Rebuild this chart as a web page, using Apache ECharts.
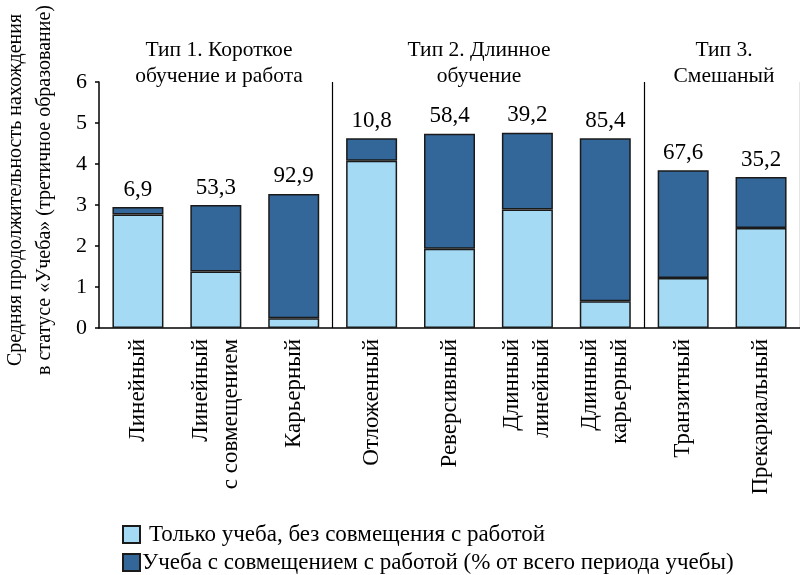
<!DOCTYPE html>
<html>
<head>
<meta charset="utf-8">
<script src="https://cdn.jsdelivr.net/npm/echarts@6/dist/echarts.min.js"></script>
<style>
  html, body { margin: 0; padding: 0; background: #fff; }
  #chart { width: 800px; height: 575px; }
</style>
</head>
<body>
<div id="chart"></div>
<script>
// категории траекторий
const categories = [
  'Линейный',
  'Линейный\nс совмещением',
  'Карьерный',
  'Отложенный',
  'Реверсивный',
  'Длинный\nлинейный',
  'Длинный\nкарьерный',
  'Транзитный',
  'Прекариальный'
];
// только учеба, лет
const studyOnly = [2.77, 1.38, 0.24, 4.08, 1.93, 2.89, 0.65, 1.22, 2.44];
// учеба с работой, лет
const studyWork = [0.18, 1.62, 3.03, 0.55, 2.81, 1.87, 3.98, 2.63, 1.24];
// % от всего периода учебы
const workShare = ['6,9', '53,3', '92,9', '10,8', '58,4', '39,2', '85,4', '67,6', '35,2'];
const yTicks = [0, 1, 2, 3, 4, 5, 6];
const groupTitles = [
  { text: 'Тип 1. Короткое\nобучение и работа', x: 219 },
  { text: 'Тип 2. Длинное\nобучение', x: 479 },
  { text: 'Тип 3.\nСмешаный', x: 724 }
];
const legendNames = [
  'Только учеба, без совмещения с работой',
  'Учеба с совмещением с работой (% от всего периода учебы)'
];

const font = 'Liberation Serif';
const chart = echarts.init(document.getElementById('chart'));

// одна строка легенды на серию
function legendRow(name, top, textPad) {
  return {
    left: 122,
    top: top,
    padding: 0,
    itemWidth: 17,
    itemHeight: 17,
    icon: 'rect',
    textStyle: { fontFamily: font, fontSize: 23, color: '#000', padding: [0, 0, 0, textPad] },
    data: [name]
  };
}

const option = {
  animation: false,
  textStyle: { fontFamily: font, color: '#000' },
  grid: { left: 99, right: -5, top: 82, bottom: 247 },
  legend: [legendRow(legendNames[0], 523, 4), legendRow(legendNames[1], 551, -3)],
  xAxis: {
    type: 'category',
    data: categories,
    axisLine: { lineStyle: { color: '#000', width: 1.5 } },
    axisTick: { show: false },
    axisLabel: {
      rotate: 90,
      margin: 11,
      interval: 0,
      fontFamily: font,
      fontSize: 23,
      color: '#000',
      lineHeight: 30
    },
    splitLine: {
      show: true,
      interval: function (index) { return index === 3 || index === 7; },
      lineStyle: { color: '#000', width: 1.2 }
    }
  },
  yAxis: {
    type: 'value',
    min: yTicks[0],
    max: yTicks[yTicks.length - 1],
    interval: 1,
    axisLine: { show: true, lineStyle: { color: '#000', width: 1.5 } },
    axisTick: { show: true, length: 4, lineStyle: { color: '#000', width: 1.5 } },
    axisLabel: { fontFamily: font, fontSize: 22, color: '#000', margin: 12 },
    splitLine: { show: false }
  },
  series: [
    {
      name: legendNames[0],
      type: 'bar',
      stack: 'total',
      barWidth: 51,
      data: studyOnly,
      itemStyle: { color: '#a5daf4', borderColor: '#1a1a1a', borderWidth: 1.5 }
    },
    {
      name: legendNames[1],
      type: 'bar',
      stack: 'total',
      barWidth: 51,
      data: studyWork,
      itemStyle: { color: '#336699', borderColor: '#1a1a1a', borderWidth: 1.5 },
      label: {
        show: true,
        position: 'top',
        distance: 6,
        fontFamily: font,
        fontSize: 23,
        color: '#000',
        formatter: function (p) { return workShare[p.dataIndex]; }
      }
    }
  ],
  graphic: [
    {
      type: 'text',
      x: 30,
      y: 190,
      rotation: Math.PI / 2,
      style: {
        text: 'Средняя продолжительность нахождения\nв статусе «Учеба» (третичное образование)',
        font: '20px "Liberation Serif"',
        fill: '#000',
        align: 'center',
        verticalAlign: 'middle',
        lineHeight: 29
      }
    }
  ].concat(groupTitles.map(function (g) {
    return {
      type: 'text',
      x: g.x,
      y: 63,
      style: {
        text: g.text,
        fontFamily: font,
        fontSize: 21.5,
        fill: '#000',
        align: 'center',
        verticalAlign: 'middle',
        lineHeight: 26
      }
    };
  }))
};

chart.setOption(option);
</script>
</body>
</html>
